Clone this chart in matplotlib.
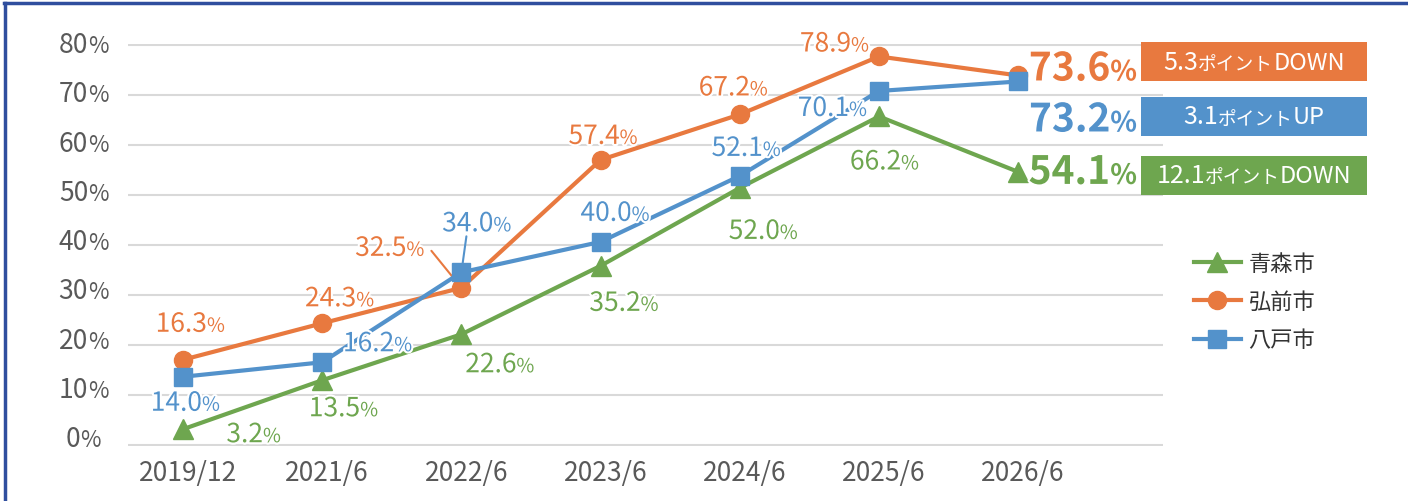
import matplotlib
matplotlib.use('Agg')
import matplotlib.pyplot as plt
import matplotlib.patheffects as pe
import matplotlib.transforms as mtransforms
from matplotlib.lines import Line2D
from matplotlib.patches import Rectangle
from matplotlib.offsetbox import TextArea, HPacker, AnnotationBbox

plt.rcParams['font.family'] = ['Noto Sans CJK JP', 'DejaVu Sans']

# データ
categories = ['2019/12', '2021/6', '2022/6', '2023/6', '2024/6', '2025/6', '2026/6']
aomori = [3.1, 12.9, 22.1, 35.8, 51.4, 65.7, 54.6]
aomori_lbl = ['3.2', '13.5', '22.6', '35.2', '52.0', '66.2', '54.1']
hirosaki = [17.0, 24.3, 31.4, 57.0, 66.1, 77.7, 73.9]
hirosaki_lbl = ['16.3', '24.3', '32.5', '57.4', '67.2', '78.9', '73.6']
hachinohe = [13.6, 16.5, 34.5, 40.6, 53.8, 70.8, 72.7]
hachinohe_lbl = ['14.0', '16.2', '34.0', '40.0', '52.1', '70.1', '73.2']
yticks = [0, 10, 20, 30, 40, 50, 60, 70, 80]

# 増減ボックス (数値, 単位, 方向)
change_hirosaki = ('5.3', 'ポイント', 'DOWN')
change_hachinohe = ('3.1', 'ポイント', 'UP')
change_aomori = ('12.1', 'ポイント', 'DOWN')

GREEN = '#6EA64F'
ORANGE = '#E8793F'
BLUE = '#5392CB'
GRAY = '#595959'

W, H = 1408, 502
fig = plt.figure(figsize=(W / 100, H / 100), dpi=100)
ax = fig.add_axes([128 / W, 1 - 447.2 / H, (1163 - 128) / W, (447.2 - 44.5) / H])

x = range(len(categories))
ax.plot(x, aomori, color=GREEN, lw=3, marker='^', ms=14, label='青森市', zorder=3)
ax.plot(x, hirosaki, color=ORANGE, lw=3, marker='o', ms=13, label='弘前市', zorder=4)
ax.plot(x, hachinohe, color=BLUE, lw=3, marker='s', ms=13, label='八戸市', zorder=5)

ax.set_xlim(-0.395, 7.04)
ax.set_ylim(-0.3, 80.3)
ax.set_yticks(yticks)
ax.set_xticks(list(x))
ax.set_xticklabels(categories, fontsize=19, color=GRAY)
ax.tick_params(axis='x', length=0, pad=9)
ax.tick_params(axis='y', length=0, labelleft=False)
ax.grid(axis='y', color='#D9D9D9', lw=1.5)
for s in ax.spines.values():
    s.set_visible(False)

# 横軸ラベルを少し右へ
shift = mtransforms.ScaledTranslation(5 / 100, 0, fig.dpi_scale_trans)
for t in ax.get_xticklabels():
    t.set_transform(t.get_transform() + shift)

# 縦軸ラベル（%は小さめ）
for v in yticks:
    n = str(v)
    jx = 81 + (len(n) * 15.5 - 17) / 2 - 128
    dy = -(1.5 + 0.07 * v)
    kw = dict(xycoords=ax.get_yaxis_transform(), textcoords='offset pixels', va='baseline', color=GRAY)
    ax.annotate(n, (0, v), xytext=(jx, dy), ha='right', fontsize=19, **kw)
    ax.annotate('%', (0, v), xytext=(jx, dy), ha='left', fontsize=16, **kw)

glow = [pe.withStroke(linewidth=3, foreground='white')]


def pct_label(i, val, num, dx, dy, color, size=19, psize=14, weight='normal'):
    kw = dict(textcoords='offset pixels', va='baseline', color=color,
              fontweight=weight, path_effects=glow, zorder=6)
    ax.annotate(num, (i, val), xytext=(dx, dy), ha='right', fontsize=size, **kw)
    ax.annotate('%', (i, val), xytext=(dx, dy), ha='left', fontsize=psize, **kw)


off_green = [(80, -13), (38, -36), (55, -38), (40, -45), (40, -51), (22, -53)]
off_orange = [(24, 28), (34, 17), (-55, 32), (19, 16), (10, 19), (-28, 5)]
off_blue = [(19, -34), (72, 11), (32, 41), (31, 21), (23, 20), (-30, -25)]

for vals, lbls, offs, c in [(aomori, aomori_lbl, off_green, GREEN),
                            (hirosaki, hirosaki_lbl, off_orange, ORANGE),
                            (hachinohe, hachinohe_lbl, off_blue, BLUE)]:
    for i, (dx, dy) in enumerate(offs):
        pct_label(i, vals[i], lbls[i], dx, dy, c)

# 最新値（大きく）
pct_label(6, hirosaki[6], hirosaki_lbl[6], 92, -5, ORANGE, 28, 20, 'bold')
pct_label(6, hachinohe[6], hachinohe_lbl[6], 92, -50, BLUE, 28, 20, 'bold')
pct_label(6, aomori[6], aomori_lbl[6], 92, -12, GREEN, 28, 20, 'bold')

# 引き出し線
ax.annotate('', (2, hirosaki[2]), xytext=(-30, 37), textcoords='offset pixels',
            arrowprops=dict(arrowstyle='-', color=ORANGE, lw=1.5, shrinkA=0, shrinkB=8))
ax.annotate('', (2, hachinohe[2]), xytext=(5, 36), textcoords='offset pixels',
            arrowprops=dict(arrowstyle='-', color=BLUE, lw=1.5, shrinkA=0, shrinkB=6))


def change_box(cy, parts, color):
    fig.patches.append(Rectangle((1141 / W, 1 - (cy + 19.5) / H), 226 / W, 39 / H,
                                 transform=fig.transFigure, facecolor=color, edgecolor='none'))
    sizes = [18, 13.5, 17]
    kids = [TextArea(s, textprops=dict(color='white', fontsize=fs)) for s, fs in zip(parts, sizes)]
    pack = HPacker(children=kids, align='baseline', pad=0, sep=0)
    ab = AnnotationBbox(pack, (1254 / W, 1 - cy / H), xycoords='figure fraction',
                        frameon=False, box_alignment=(0.5, 0.5))
    fig.add_artist(ab)


change_box(62.5, change_hirosaki, ORANGE)
change_box(117.5, change_hachinohe, BLUE)
change_box(176, change_aomori, GREEN)

ax.legend(loc='upper left', bbox_to_anchor=(1183 / W, 1 - 242 / H), bbox_transform=fig.transFigure,
          frameon=False, fontsize=16, handlelength=2.1, handletextpad=0.35, labelspacing=0.68,
          borderpad=0, labelcolor='#333333')

# 外枠（上・左）
fig.add_artist(Line2D([4 / W, 1], [1 - 4 / H, 1 - 4 / H], color='#2F4E9E', lw=2.5, transform=fig.transFigure))
fig.add_artist(Line2D([4.5 / W, 4.5 / W], [0, 1 - 4 / H], color='#2F4E9E', lw=2.5, transform=fig.transFigure))

fig.savefig('out.png', dpi=100)
